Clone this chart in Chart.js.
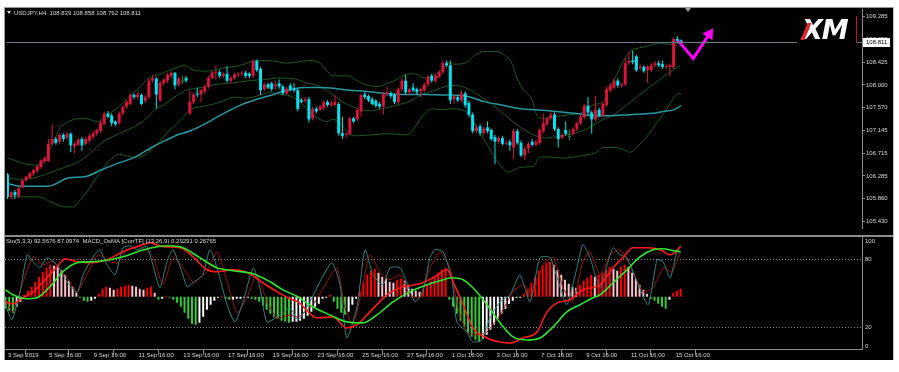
<!DOCTYPE html>
<html>
<head>
<meta charset="utf-8">
<title>USDJPY,H4</title>
<script src="https://cdn.jsdelivr.net/npm/chart.js@4.4.1/dist/chart.umd.min.js"></script>
<style>
  html, body { margin: 0; padding: 0; background: #fff; }
  body { position: relative; width: 899px; height: 372px; overflow: hidden;
         font-family: "Liberation Sans", sans-serif; }
  #frame { position: absolute; left: 4px; top: 7px; width: 888px; height: 352px; background: #000;
           border-left: 1px solid #9a9a9a; border-top: 1px solid #9a9a9a; border-right: 1px solid #c4c4c4; }
  #sep { position: absolute; left: 5px; top: 235px; width: 888px; height: 2px; background: #8c8c8c; }
  canvas { position: absolute; left: 0; }
  #price { top: 0; }
  #osc { top: 237px; }
  .hdr { position: absolute; font-size: 6px; line-height: 8px; color: #d8d8d8; white-space: pre; }
  #title { left: 7px; top: 9px; }
  #title i { display: inline-block; width: 0; height: 0; border-left: 2px solid transparent;
             border-right: 2px solid transparent; border-top: 3px solid #e0e0e0; margin-right: 3px; vertical-align: 1px; }
  #oscTitle { left: 6px; top: 237px; }
  #logo { position: absolute; left: 797px; top: 16px; width: 59px; height: 27px; background: #000;
          border-right: 1px solid #c0161c; }
  #logo .xm { position: absolute; left: 5px; top: 0px; font: italic bold 27px "DejaVu Sans", sans-serif;
              color: #fff; letter-spacing: -1px; line-height: 27px; }
  #logo .mark { position: absolute; left: 7px; top: 7px; width: 4px; height: 17px; background: #e3262d;
                transform: skewX(-22deg); }
  #shift { position: absolute; left: 685px; top: 8px; width: 0; height: 0; border-left: 3px solid transparent;
           border-right: 3px solid transparent; border-top: 4px solid #a0a0a0; }
</style>
</head>
<body>
<div id="frame"></div>
<div id="sep"></div>
<canvas id="price" width="899" height="235"></canvas>
<canvas id="osc" width="899" height="135"></canvas>
<div id="title" class="hdr"></div>
<div id="oscTitle" class="hdr"></div>
<div id="logo"><span class="xm">XM</span><span class="mark"></span></div>
<div id="shift"></div>
<script>
// USDJPY H4, one entry per bar (bar 0 = 3 Sep 2019 20:00)
const symbol = "USDJPY,H4";
const oscTitle = "Sto(5,3,3) 92.5676 87.0974  MACD_OsMA [CurrTF] (13,26,9) 0.29291 0.26765";

const open = [
106.31,105.89,105.98,105.91,106.07,106.20,106.25,106.33,106.38,106.45,
106.56,106.56,106.89,106.98,106.93,107.06,107.00,107.08,106.84,106.87,
106.98,106.89,106.95,107.02,107.08,107.13,107.26,107.46,107.42,107.31,
107.28,107.46,107.59,107.64,107.81,107.77,107.81,107.70,107.77,108.08,
108.12,107.71,108.03,108.08,108.17,108.23,108.01,108.06,108.13,107.46,
107.68,107.84,107.82,107.88,107.97,108.13,108.23,108.24,108.17,108.21,
108.08,108.13,108.19,108.21,108.23,108.21,108.17,108.45,108.30,107.92,
108.01,108.03,107.97,108.03,107.97,107.84,107.99,107.93,107.90,107.71,
107.70,107.73,107.37,107.55,107.53,107.57,107.68,107.62,107.62,107.64,
107.09,107.06,107.08,107.37,107.35,107.50,107.82,107.79,107.73,107.70,
107.64,107.59,107.82,107.84,107.81,107.68,107.92,108.08,107.86,107.95,
107.92,107.88,107.90,108.01,108.17,108.08,108.15,108.24,108.41,108.37,
107.73,107.77,107.71,107.84,107.66,107.44,107.13,107.22,107.09,107.20,
107.15,107.02,106.93,107.00,106.89,106.93,106.82,107.13,106.91,106.67,
106.80,106.93,106.87,106.91,107.13,107.26,107.37,107.44,107.17,107.00,
107.15,107.02,107.08,107.17,107.28,107.39,107.61,107.48,107.35,107.53,
107.42,107.62,107.90,107.95,108.08,107.99,108.01,108.41,108.46,108.54,
108.32,108.34,108.28,108.28,108.37,108.41,108.39,108.34,108.34,108.34,
108.87,108.839];

const high = [
106.34,106.00,106.02,106.07,106.22,106.29,106.36,106.42,106.49,106.60,
106.65,106.98,107.26,107.02,107.09,107.09,107.11,107.11,106.93,107.00,
107.02,107.02,107.08,107.13,107.18,107.33,107.50,107.51,107.46,107.33,
107.50,107.61,107.71,107.84,107.84,107.86,107.84,107.81,108.12,108.19,
108.15,108.08,108.13,108.23,108.26,108.24,108.15,108.17,108.17,107.90,
107.86,107.95,107.93,108.01,108.17,108.26,108.37,108.28,108.24,108.35,
108.17,108.23,108.24,108.26,108.26,108.24,108.48,108.48,108.34,108.04,
108.04,108.06,108.08,108.10,108.01,107.97,108.03,108.03,107.93,107.75,
107.77,107.77,107.59,107.59,107.62,107.71,107.71,107.70,107.81,107.68,
107.40,107.11,107.40,107.40,107.57,107.84,107.86,107.82,107.77,107.73,
107.68,107.86,107.97,107.88,107.84,107.95,108.13,108.19,107.95,108.03,
107.95,107.95,108.04,108.19,108.21,108.21,108.28,108.46,108.46,108.46,
107.82,107.81,107.90,107.88,107.70,107.48,107.26,107.26,107.22,107.31,
107.18,107.06,107.04,107.04,106.95,106.97,107.17,107.17,106.95,106.84,
106.93,106.98,106.97,107.18,107.46,107.40,107.48,107.48,107.20,107.09,
107.31,107.15,107.20,107.31,107.44,107.64,107.77,107.51,107.79,107.57,
107.68,107.97,108.03,108.12,108.12,108.04,108.50,108.63,108.65,108.57,
108.39,108.37,108.37,108.41,108.45,108.46,108.46,108.39,108.41,108.90,
108.92,108.858];

const low = [
105.85,105.85,105.85,105.87,106.05,106.18,106.23,106.29,106.34,106.42,
106.53,106.55,106.86,106.87,106.89,106.93,106.97,106.73,106.71,106.84,
106.76,106.86,106.91,106.98,107.04,107.09,107.24,107.37,107.22,107.22,
107.24,107.42,107.55,107.61,107.73,107.73,107.61,107.66,107.73,108.04,
107.55,107.68,107.99,108.04,108.13,107.92,107.97,108.01,108.04,107.44,
107.64,107.77,107.68,107.84,107.93,108.10,108.10,108.13,108.13,108.04,
108.04,108.10,108.15,108.17,108.13,108.13,108.13,108.24,107.81,107.88,
107.92,107.88,107.90,107.93,107.81,107.81,107.88,107.86,107.50,107.66,
107.66,107.29,107.33,107.46,107.50,107.53,107.59,107.59,107.59,107.04,
106.98,107.00,107.04,107.28,107.31,107.40,107.73,107.68,107.61,107.57,
107.55,107.44,107.79,107.75,107.64,107.64,107.88,107.82,107.82,107.86,
107.82,107.77,107.86,107.97,108.04,108.04,108.12,108.21,108.34,107.64,
107.64,107.68,107.68,107.57,107.40,107.09,107.09,107.04,107.06,107.09,
106.95,106.51,106.89,106.86,106.86,106.76,106.60,106.87,106.64,106.58,
106.71,106.84,106.84,106.87,107.09,107.22,107.33,107.13,106.82,106.97,
107.04,106.95,107.04,107.13,107.24,107.35,107.44,107.08,107.31,107.39,
107.39,107.59,107.86,107.92,107.95,107.95,107.97,108.37,108.39,108.24,
108.28,108.23,108.04,108.24,108.34,108.34,108.30,108.30,108.17,108.30,
108.79,108.792];

const close = [
105.89,105.98,105.92,106.05,106.20,106.27,106.34,106.40,106.47,106.58,
106.62,106.89,106.98,106.91,107.06,106.98,107.08,106.86,106.89,106.97,
106.86,106.98,107.04,107.09,107.15,107.29,107.46,107.40,107.28,107.26,
107.46,107.59,107.68,107.81,107.77,107.82,107.64,107.77,108.08,108.13,
107.82,108.04,108.10,108.19,108.23,107.99,108.12,108.06,108.08,107.68,
107.82,107.82,107.90,107.97,108.13,108.23,108.24,108.17,108.21,108.08,
108.13,108.19,108.21,108.23,108.17,108.17,108.45,108.28,107.90,108.01,
107.95,107.92,108.01,107.97,107.84,107.93,107.92,107.90,107.55,107.68,
107.73,107.35,107.55,107.50,107.59,107.68,107.62,107.66,107.68,107.09,
107.04,107.08,107.37,107.31,107.53,107.81,107.77,107.71,107.64,107.61,
107.59,107.82,107.86,107.79,107.68,107.92,108.08,107.86,107.92,107.90,
107.86,107.92,108.01,108.15,108.08,108.17,108.24,108.41,108.37,107.71,
107.79,107.71,107.84,107.62,107.44,107.13,107.20,107.09,107.18,107.13,
106.98,106.93,107.00,106.89,106.91,106.86,107.13,106.91,106.67,106.80,
106.89,106.87,106.93,107.15,107.28,107.37,107.44,107.17,106.98,107.06,
107.08,107.02,107.17,107.28,107.40,107.61,107.48,107.35,107.53,107.42,
107.64,107.92,107.99,108.08,107.99,108.01,108.41,108.45,108.43,108.28,
108.35,108.26,108.34,108.37,108.41,108.37,108.34,108.35,108.37,108.87,
108.83,108.811];

// Bollinger bands and moving average, read at bar positions
const upperBars = [0,7,10,12,14,16.5,20,22,24,27,30,32.5,35,38,40.5,43,46,47.3,50,53.5,58,62.6,66,68,71.5,75,77.6,81.4,84,85.7,87.5,91.8,93.4,97,99.6,101.5,104,106.8,109.5,112,114,116.7,118.4,120,123,125.6,128.3,131.5,133.6,135.5,136.9,138.7,141,142,144,147.6,151,153.8,156.4,158.3,160,161.8,163.7,165.5,167.2,169.9,172.5,175.2,177,178.9,181];
const upperVals = [106.62,106.49,106.58,106.86,107.17,107.31,107.37,107.35,107.31,107.44,107.59,107.77,107.92,108.13,108.19,108.26,108.34,108.37,108.28,108.26,108.32,108.37,108.45,108.46,108.45,108.41,108.43,108.46,108.41,108.28,108.17,108.17,108.10,107.99,107.97,108.01,108.08,108.19,108.21,108.13,108.17,108.28,108.41,108.39,108.41,108.56,108.63,108.63,108.56,108.41,108.13,107.90,107.71,107.46,107.37,107.40,107.44,107.46,107.59,107.64,107.68,107.95,108.19,108.45,108.63,108.70,108.74,108.79,108.77,108.76,108.81];

const midBars = [0,3,5.7,8.4,12,15.5,19,22.6,25.3,30,34.3,37,39.6,42.3,45.7,48,52,56,60.7,65,68.8,73,76.8,80.3,84,87.5,90,91.8,93.4,97,100.6,104,107.6,111.4,114.9,117.6,119.4,123,126.4,130,133.6,136.3,139.5,142,144.9,148.4,152,155.6,159,162.9,166.4,169.9,173.6,177,180.8];
const midVals = [106.25,106.22,106.23,106.27,106.36,106.45,106.55,106.73,106.91,107.08,107.22,107.35,107.53,107.64,107.81,107.90,107.95,108.01,108.04,108.08,108.10,108.13,108.12,108.04,107.97,107.81,107.68,107.62,107.57,107.51,107.55,107.61,107.68,107.82,107.90,107.97,107.99,107.95,107.82,107.64,107.44,107.28,107.13,107.04,107.00,107.04,107.08,107.17,107.31,107.44,107.62,107.82,108.01,108.19,108.37];

const lowBars = [0,4,8.4,12,15.5,17.8,19.2,21.8,24.5,28,30,32.6,35.3,37.9,40.6,43.3,45.7,47.3,49,52,55.4,58,60.7,63.4,66,68,70.6,73.3,76,78.7,80.3,82,84,85.7,87.5,89.4,91.8,93.4,98,102.3,107.6,108.7,111.4,114,116.7,119.4,122,123.7,126.4,129,131.8,134.5,136.3,138,141.4,143,145.7,149.5,153,156.4,158.3,160,163.7,165.5,167.2,169,170.9,172.5,174.4,176.3,178,179.8,181];
const lowVals = [105.89,105.89,105.89,105.78,105.70,105.70,105.80,106.03,106.31,106.62,106.69,106.65,106.64,106.73,106.91,107.13,107.28,107.40,107.53,107.59,107.64,107.70,107.77,107.75,107.77,107.81,107.86,107.82,107.79,107.68,107.55,107.44,107.35,107.31,107.35,107.28,107.08,107.04,107.06,107.08,107.06,107.13,107.40,107.55,107.53,107.55,107.53,107.46,107.17,106.86,106.55,106.36,106.40,106.45,106.47,106.64,106.64,106.62,106.65,106.69,106.73,106.82,106.82,106.78,106.73,106.82,106.95,107.09,107.28,107.46,107.64,107.82,107.84];

const maBars = [0,4,11,16.5,20.8,25.3,30,34.3,38.7,43.3,45.7,49,53.5,58,62.6,67,71.5,74,76.8,79.5,84,88.4,91.8,96,101.5,106.8,112,117.6,123,128.3,132.8,138,142,147.6,153,157.5,161.8,167.2,172.5,176.3,179,181];
const maVals = [106.14,106.09,106.09,106.25,106.27,106.40,106.53,106.64,106.82,106.98,107.06,107.13,107.28,107.46,107.62,107.73,107.82,107.88,107.92,107.95,107.95,107.93,107.90,107.88,107.84,107.82,107.82,107.81,107.79,107.68,107.62,107.55,107.53,107.50,107.46,107.42,107.42,107.44,107.46,107.50,107.53,107.61];

// hand-drawn magenta arrow
const arrowBars = [180.3, 184.3, 188.6];
const arrowPrices = [108.83, 108.50, 108.96];

// oscillator window
const stBars = [0,1.7,3.9,5.8,7.4,9.2,11.1,13.8,16.5,19.2,20.8,23.5,25.3,27.2,29.4,31.5,33.4,35.3,37.9,39.5,41.4,43.3,44.9,47.3,48.7,50.3,52.9,54.8,56.7,59.4,61.5,63.7,66.4,68.2,70.1,73.6,76.3,78.4,81.6,84.3,87.5,89.7,91.5,94.2,96.4,98.5,101.2,103.1,105.8,107.6,109.8,111.9,113.8,115.1,117.3,119.7,121,123.7,125.3,127.7,129.9,132.6,135.3,137.9,140.6,143.3,146,147.9,150.5,153.2,154.8,156.7,159.4,161.3,162.9,164.7,166.6,169.3,172.3,174.7,176.3,178.2,180,181];
const stMain = [39.7,26.3,51.2,84.2,78.0,72.6,81.6,75.3,60.2,50.4,66.4,82.4,88.7,75.3,66.4,90.5,92.2,88.7,91.4,75.3,54.8,78.0,88.7,69.1,55.7,59.3,66.4,88.7,72.6,39.7,24.5,42.3,72.6,54.8,24.5,30.7,37.0,26.3,42.3,60.2,77.1,57.5,10.2,37.0,88.7,66.4,57.5,72.6,72.6,59.3,42.3,51.2,81.6,88.7,86.9,61.9,24.5,15.6,6.6,8.4,28.1,42.3,48.6,66.4,42.3,81.6,81.6,63.7,39.7,72.6,93.1,81.6,54.8,75.3,90.5,84.2,81.6,60.2,39.7,79.8,78.0,63.7,86.9,92.6];

const sgBars = [0,2,4.7,7.4,10.1,12.7,16.5,19.2,21.8,24.8,28,30.2,32.6,36.1,39.5,42.2,44.9,47.6,50.3,54,56.7,59.4,62.1,64.7,67.4,70.1,72.8,76.3,78.4,82.4,86.2,88.9,91,93.2,95.8,97.7,100.4,103.1,105.8,108.4,111.1,113.8,116.5,119.2,121.3,123.7,126.4,129.1,132.6,136.1,138.7,141.4,144.1,146.8,149.5,152.1,154.8,156.7,159.4,162.1,164.7,167.4,170.9,173.6,176.3,178.7,181];
const stSignal = [44.1,33.4,60.2,82.4,75.3,78.0,63.7,51.2,66.4,84.2,78.0,77.1,88.7,91.4,82.4,57.5,81.6,72.6,60.2,69.1,86.9,60.2,32.5,45.9,66.4,42.3,28.1,30.7,28.9,39.7,60.2,72.6,37.0,21.8,57.5,84.2,69.1,61.9,66.4,48.6,45.9,72.6,86.0,72.6,37.0,15.6,12.9,15.6,30.7,51.2,57.5,51.2,75.3,81.6,54.8,42.3,78.0,86.9,66.4,84.2,88.7,75.3,51.2,54.8,72.6,69.1,87.1];

const redBars = [0,2,4.7,7.4,11.1,13.8,16,19.2,22.7,27.2,31.5,36.1,38.7,42.2,46.8,50.3,54,56.7,61,65.5,69,72.8,76.3,78.4,83.5,87.8,91.5,94.2,97.7,102.3,106.6,111.1,114.6,118.4,120,122.7,125.3,129.1,132.6,135.3,138.7,142.5,145.2,147.9,151.3,154.8,159.4,162.9,165.5,168.2,172,175.5,178.2,181];
const redVals = [42.3,40.6,45.9,51.2,63.7,73.5,80.7,78.0,77.1,79.8,86.9,92.2,94.9,91.4,90.5,82.4,70.8,69.1,70.8,67.3,59.3,51.2,45.0,42.3,28.1,28.9,19.1,21.8,33.4,48.6,55.7,58.4,63.7,70.8,60.2,39.7,19.1,10.2,6.6,5.7,10.2,15.6,33.4,41.4,44.1,53.0,57.5,72.6,81.6,90.5,90.5,88.7,84.2,91.4];

const grnBars = [0,2,5.8,8.4,11.9,15.4,19.2,23.5,28,31.5,36.1,40.6,44.1,47.6,52.1,56.7,61,66.4,70.9,74.4,78.4,82.4,87,91.5,95.8,99.6,103.9,108.4,113,116.5,119.7,122.7,125.3,129.1,132.6,136.1,139.8,143.3,146.8,150.5,154,157.5,159.4,162.9,166.6,170.1,173.6,176.3,179,181];
const grnVals = [53.0,48.6,45.0,45.9,55.7,69.1,77.1,78.0,79.8,82.4,87.8,91.4,92.2,90.5,81.6,72.6,70.0,67.3,60.2,53.0,46.8,37.9,30.7,24.5,23.6,30.7,42.3,51.2,57.5,61.1,63.7,61.9,54.8,39.7,23.6,11.1,8.4,10.2,20.0,33.4,39.7,45.9,48.6,59.3,70.8,82.4,88.7,89.6,87.8,86.9];

// OsMA histogram, one value per bar
const osmaHist = [
-12,-14,-16,-10,-5,2,6,10,15,20,
25,29,32,31,30,27,22,16,10,4,
-1,-4,-5,-4,-2,3,8,10,9,7,
8,10,11,12,11,10,8,7,9,10,
4,-3,-2,1,-1,-3,-6,-10,-16,-22,
-27,-28,-26,-20,-13,-8,-4,-1,1,-2,
-3,-3,-2,-2,-1,-1,-2,-3,-5,-9,
-13,-17,-20,-22,-24,-25,-26,-25,-25,-24,
-22,-19,-15,-10,-7,-2,-1,2,-5,-12,
-16,-18,-15,-8,-2,5,15,22,26,28,
24,20,18,15,14,17,18,16,12,8,
6,5,8,12,16,20,24,27,29,-3,
-10,-17,-24,-30,-36,-40,-43,-45,-42,-38,
-33,-28,-22,-17,-12,-7,-4,-1,-1,3,
8,14,20,26,31,34,35,32,27,22,
17,13,10,9,12,16,19,22,20,22,
24,27,30,28,26,30,32,30,24,18,
12,7,3,-2,-4,-7,-10,-12,-3,4,
6,8];

// axes
const priceTicks = [109.285, 108.855, 108.425, 108.000, 107.570, 107.145, 106.715, 106.285, 105.860, 105.430];
const stochLevels = [80, 20];
const stochLabels = [100, 80, 20, 0];
const xTickBars = [0, 11, 23, 35, 47, 59, 71, 83, 95, 107, 119, 131, 143, 155, 167, 179];
const xTickLabels = ["3 Sep 2019", "5 Sep 16:00", "9 Sep 16:00", "11 Sep 16:00", "13 Sep 16:00", "17 Sep 16:00",
  "19 Sep 16:00", "23 Sep 16:00", "25 Sep 16:00", "27 Sep 16:00", "1 Oct 16:00", "3 Oct 16:00",
  "7 Oct 16:00", "9 Oct 16:00", "11 Oct 16:00", "15 Oct 16:00"];

const FONT = '"Liberation Sans", sans-serif';
const TEXT = '#d8d8d8';
const GRID = '#8c8c8c';
const BAND = '#1d5a1d';
const X_MIN = -0.13, X_MAX = 229.63;

Chart.defaults.font.family = FONT;
Chart.defaults.font.size = 6;
Chart.defaults.color = TEXT;

const last = close.length - 1;
document.getElementById('title').innerHTML = '<i></i>' + symbol + '  ' +
  [open[last], high[last], low[last], close[last]].map(v => v.toFixed(3)).join(' ');
document.getElementById('oscTitle').textContent = oscTitle;

function pts(xs, ys) { return xs.map((x, i) => ({ x: x, y: ys[i] })); }

function candleColor(i) {
  if (close[i] > open[i]) return '#dc143c';
  if (close[i] < open[i]) return '#00e5f0';
  return '#2e8b2e';
}

function histColor(i) {
  const v = osmaHist[i], p = i > 0 ? osmaHist[i - 1] : 0;
  if (v >= 0) return v >= p ? '#ff0000' : '#ffc0cb';
  return v < p ? '#32cd32' : '#ffffff';
}

function arrowAngle(ctx) {
  const { x, y } = ctx.chart.scales;
  const n = arrowBars.length;
  const x1 = x.getPixelForValue(arrowBars[n - 2]), y1 = y.getPixelForValue(arrowPrices[n - 2]);
  const x2 = x.getPixelForValue(arrowBars[n - 1]), y2 = y.getPixelForValue(arrowPrices[n - 1]);
  return Math.atan2(x2 - x1, y1 - y2) * 180 / Math.PI;
}

const priceLine = {
  id: 'priceLine',
  afterDatasetsDraw(chart) {
    const { ctx, chartArea, scales: { y } } = chart;
    const py = Math.round(y.getPixelForValue(close[last])) + 0.5;
    ctx.save();
    ctx.strokeStyle = '#6e7c8a';
    ctx.lineWidth = 1;
    ctx.beginPath();
    ctx.moveTo(chartArea.left, py);
    ctx.lineTo(chartArea.right, py);
    ctx.stroke();
    ctx.restore();
  },
  afterDraw(chart) {
    const { ctx, chartArea, scales: { y } } = chart;
    const py = Math.round(y.getPixelForValue(close[last]));
    ctx.save();
    ctx.fillStyle = '#ffffff';
    ctx.fillRect(chartArea.right + 1, py - 4, 27, 9);
    ctx.fillStyle = '#000000';
    ctx.font = '6px ' + FONT;
    ctx.textBaseline = 'middle';
    ctx.fillText(close[last].toFixed(3), chartArea.right + 4, py + 0.5);
    ctx.restore();
  }
};

const stochLevelLines = {
  id: 'stochLevelLines',
  beforeDatasetsDraw(chart) {
    const { ctx, chartArea, scales: { y } } = chart;
    ctx.save();
    ctx.strokeStyle = GRID;
    ctx.lineWidth = 1;
    ctx.setLineDash([1, 2]);
    stochLevels.forEach(v => {
      const py = Math.round(y.getPixelForValue(v)) + 0.5;
      ctx.beginPath();
      ctx.moveTo(chartArea.left, py);
      ctx.lineTo(chartArea.right, py);
      ctx.stroke();
    });
    ctx.restore();
  },
  afterDraw(chart) {
    const { ctx, chartArea, scales: { y } } = chart;
    ctx.save();
    ctx.fillStyle = TEXT;
    ctx.font = '6px ' + FONT;
    ctx.textBaseline = 'middle';
    stochLabels.forEach(v => {
      const py = Math.min(Math.max(y.getPixelForValue(v), chartArea.top + 4), chartArea.bottom - 3);
      ctx.fillText(String(v), chartArea.right + 3, py);
    });
    ctx.restore();
  }
};

new Chart(document.getElementById('price'), {
  type: 'bar',
  data: {
    datasets: [
      { type: 'line', data: pts(upperBars, upperVals), borderColor: BAND, borderWidth: 1, pointRadius: 0,
        cubicInterpolationMode: 'monotone', order: 5 },
      { type: 'line', data: pts(midBars, midVals), borderColor: BAND, borderWidth: 1, pointRadius: 0,
        cubicInterpolationMode: 'monotone', order: 5 },
      { type: 'line', data: pts(lowBars, lowVals), borderColor: BAND, borderWidth: 1, pointRadius: 0,
        cubicInterpolationMode: 'monotone', order: 5 },
      { type: 'line', data: pts(maBars, maVals), borderColor: '#2a98a2', borderWidth: 1.5, pointRadius: 0,
        cubicInterpolationMode: 'monotone', order: 4 },
      { type: 'bar', data: low.map((l, i) => ({ x: i, y: [l, high[i]] })),
        backgroundColor: c => candleColor(c.dataIndex), barThickness: 1, grouped: false, inflateAmount: 0, order: 2 },
      { type: 'bar', data: open.map((o, i) => ({ x: i, y: [o, close[i]] })),
        backgroundColor: c => candleColor(c.dataIndex), barThickness: 3, minBarLength: 1, grouped: false,
        inflateAmount: 0, order: 1 },
      { type: 'line', data: pts(arrowBars, arrowPrices), borderColor: '#ff00ff', borderWidth: 3,
        pointRadius: c => c.dataIndex === arrowBars.length - 1 ? 7 : 0, pointStyle: 'triangle',
        pointBackgroundColor: '#ff00ff', pointBorderWidth: 0, pointRotation: arrowAngle, clip: false, order: 0 }
    ]
  },
  options: {
    responsive: false,
    animation: false,
    layout: { padding: { left: 5, top: 9, right: 0, bottom: 0 } },
    plugins: { legend: { display: false }, tooltip: { enabled: false } },
    scales: {
      x: { type: 'linear', min: X_MIN, max: X_MAX, offset: false, display: false },
      y: {
        position: 'right', min: 105.303, max: 109.431,
        afterBuildTicks: s => { s.ticks = priceTicks.map(v => ({ value: v })); },
        afterFit: s => { s.width = 37; s.paddingTop = 0; s.paddingBottom = 0; },
        ticks: { callback: v => v.toFixed(3), padding: 1, autoSkip: false, color: TEXT },
        grid: { drawOnChartArea: false, tickLength: 3, color: GRID },
        border: { color: GRID }
      }
    }
  },
  plugins: [priceLine]
});

new Chart(document.getElementById('osc'), {
  type: 'bar',
  data: {
    datasets: [
      { type: 'bar', yAxisID: 'yh', data: osmaHist.map((v, i) => ({ x: i, y: v })),
        backgroundColor: c => histColor(c.dataIndex), barThickness: 2, grouped: false, inflateAmount: 0, order: 5 },
      { type: 'line', data: pts(stBars, stMain), borderColor: '#2f8585', borderWidth: 1, pointRadius: 0,
        tension: 0.2, order: 3 },
      { type: 'line', data: pts(sgBars, stSignal), borderColor: '#a01010', borderWidth: 1, pointRadius: 0,
        tension: 0.2, order: 3 },
      { type: 'line', data: pts(redBars, redVals), borderColor: '#ff1a1a', borderWidth: 1.6, pointRadius: 0,
        cubicInterpolationMode: 'monotone', order: 2 },
      { type: 'line', data: pts(grnBars, grnVals), borderColor: '#2ee62e', borderWidth: 1.6, pointRadius: 0,
        cubicInterpolationMode: 'monotone', order: 1 }
    ]
  },
  options: {
    responsive: false,
    animation: false,
    layout: { padding: { left: 5, top: 0, right: 0, bottom: 0 } },
    plugins: { legend: { display: false }, tooltip: { enabled: false } },
    scales: {
      x: {
        type: 'linear', min: X_MIN, max: X_MAX, offset: false,
        afterBuildTicks: s => { s.ticks = xTickBars.map(v => ({ value: v })); },
        afterFit: s => { s.height = 22.6; s.paddingLeft = 0; s.paddingRight = 0; },
        ticks: { callback: (v, i) => xTickLabels[i], align: 'start', labelOffset: 2.5, padding: -4,
                 autoSkip: false, maxRotation: 0, color: TEXT },
        grid: { drawOnChartArea: false, tickLength: 6, color: GRID },
        border: { color: GRID }
      },
      y: {
        position: 'right', min: 0, max: 100,
        afterFit: s => { s.width = 37; s.paddingTop = 0; s.paddingBottom = 0; },
        ticks: { display: false },
        grid: { display: false },
        border: { color: GRID }
      },
      yh: { display: false, min: -52.7, max: 59.7 }
    }
  },
  plugins: [stochLevelLines]
});
</script>
</body>
</html>
